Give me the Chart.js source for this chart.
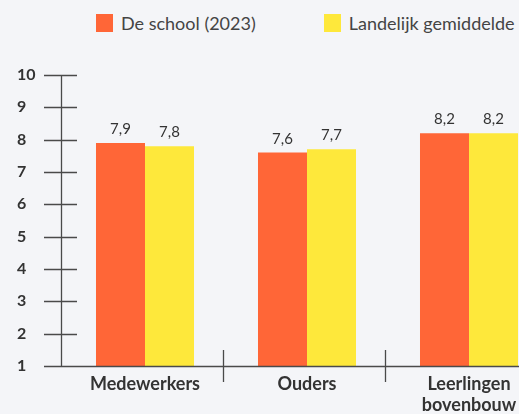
<!DOCTYPE html>
<html>
<head>
<meta charset="utf-8">
<script src="https://cdn.jsdelivr.net/npm/chart.js@4"></script>
<style>
  html,body{margin:0;padding:0;background:#f4f5f8;}
  #wrap{position:relative;width:519px;height:414px;overflow:hidden;}
  #legend{position:absolute;top:12px;left:96px;display:flex;font:18px Lato,sans-serif;color:#444;white-space:nowrap;}
  #legend .item{display:flex;align-items:center;margin-right:68px;}
  #legend .box{width:17px;height:18px;margin-right:8px;}
  canvas{position:absolute;left:0;top:0;}
</style>
</head>
<body>
<div id="wrap">
  <div id="legend"></div>
  <canvas id="c" width="560" height="414"></canvas>
</div>
<script>
const categories = [["Medewerkers"], ["Ouders"], ["Leerlingen", "bovenbouw"]];
const seriesNames = ["De school (2023)", "Landelijk gemiddelde"];
const schoolValues = [7.9, 7.6, 8.2];
const nationalValues = [7.8, 7.7, 8.2];
const yTicks = [1, 2, 3, 4, 5, 6, 7, 8, 9, 10];
const colors = ["#ff6637", "#fee83b"];

const axisColor = "#4a4a4a";
const axisShift = 3; // axis line sits a little left of the bar area

document.getElementById("legend").innerHTML = seriesNames.map((n,i)=>
  `<div class="item"><div class="box" style="background:${colors[i]}"></div>${n}</div>`).join("");

// value labels above bars + crossing tick marks
const extras = {
  id:"extras",
  afterDatasetsDraw(chart){
    const ctx = chart.ctx;
    ctx.save();
    ctx.font = "15px Lato, sans-serif";
    ctx.fillStyle = "#333";
    ctx.textAlign = "center";
    ctx.textBaseline = "alphabetic";
    chart.data.datasets.forEach((ds, di)=>{
      chart.getDatasetMeta(di).data.forEach((bar, i)=>{
        ctx.fillText(ds.data[i].toFixed(1).replace(".", ","), bar.x, bar.y - 9);
      });
    });
    ctx.restore();
  },
  afterDraw(chart){
    const ctx = chart.ctx, y = chart.scales.y, x = chart.scales.x;
    const ax = x.left - axisShift;
    ctx.save();
    ctx.strokeStyle = axisColor;
    ctx.lineWidth = 1.3;
    ctx.beginPath();
    yTicks.forEach(v=>{
      const py = Math.round(y.getPixelForValue(v)) + 0.5;
      ctx.moveTo(ax - 17, py);
      ctx.lineTo(v === yTicks[0] ? x.right : ax + 16, py);
    });
    for(let i=0;i<categories.length-1;i++){
      const px = Math.round((x.getPixelForValue(i) + x.getPixelForValue(i+1))/2) - axisShift + 0.5;
      ctx.moveTo(px, y.bottom - 16);
      ctx.lineTo(px, y.bottom + 16);
    }
    ctx.moveTo(Math.round(ax) + 0.5, y.top);
    ctx.lineTo(Math.round(ax) + 0.5, y.bottom);
    ctx.stroke();
    ctx.restore();
  }
};

new Chart(document.getElementById("c"), {
  type:"bar",
  data:{
    labels: categories,
    datasets:[
      {label:seriesNames[0], data:schoolValues, backgroundColor:colors[0]},
      {label:seriesNames[1], data:nationalValues, backgroundColor:colors[1]}
    ]
  },
  options:{
    responsive:false,
    animation:false,
    layout:{padding:{top:75, left:17, right:10, bottom:0}},
    datasets:{bar:{categoryPercentage:0.605, barPercentage:1}},
    plugins:{legend:{display:false}, tooltip:{enabled:false}},
    scales:{
      x:{
        grid:{display:false, drawTicks:false},
        border:{display:false},
        ticks:{color:"#333", padding:8, font:{family:"Lato", size:18, weight:"bold", lineHeight:1.15}},
        afterFit(s){ s.height = 48; }
      },
      y:{
        min:1, max:10,
        afterBuildTicks(s){ s.ticks = yTicks.map(v=>({value:v})); },
        grid:{display:false, drawTicks:false},
        border:{display:false},
        ticks:{color:"#333", crossAlign:"far", font:{family:"Lato", size:16, weight:"bold"}},
        afterFit(s){ s.width = 47; }
      }
    }
  },
  plugins:[extras]
});
</script>
</body>
</html>
